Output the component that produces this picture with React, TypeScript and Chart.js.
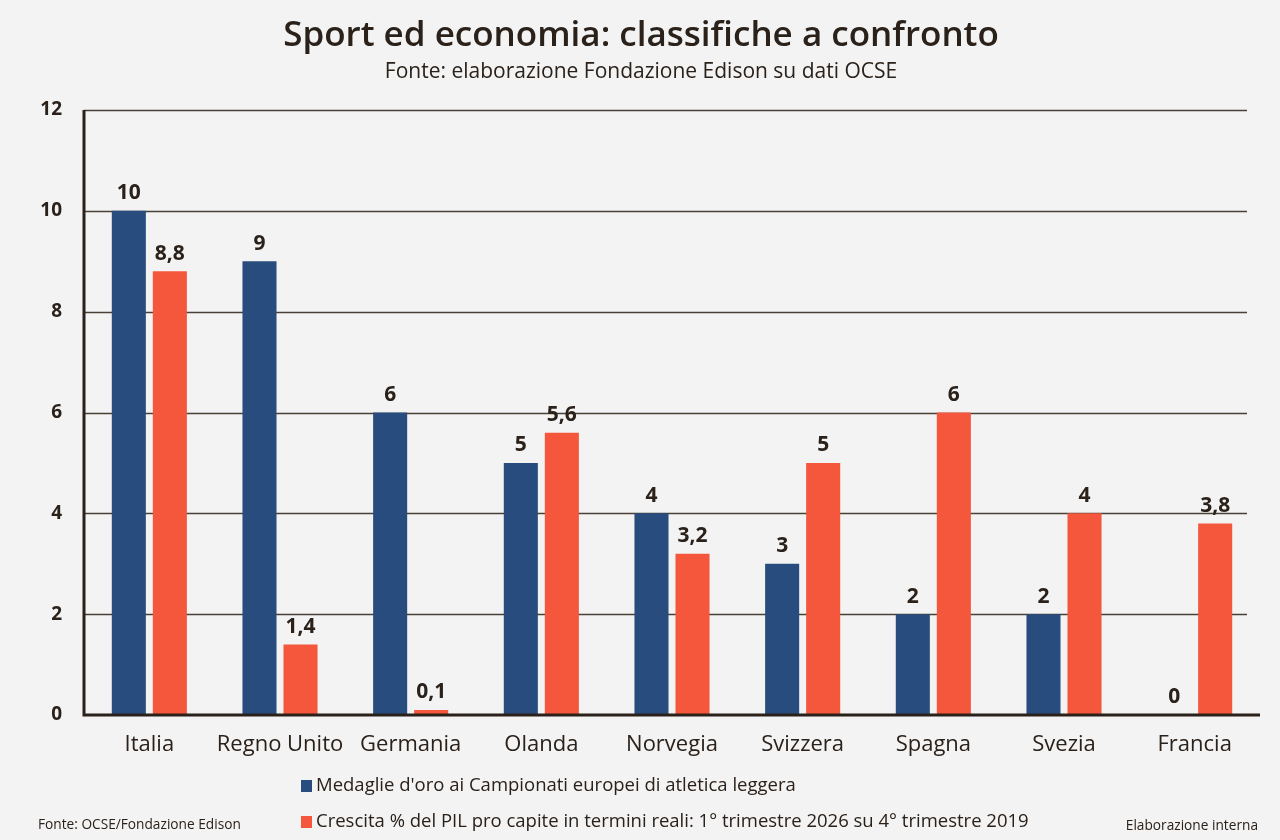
import React, { useEffect, useRef } from "react";
import { Chart, registerables } from "chart.js";

Chart.register(...registerables);

const categories = ["Italia", "Regno Unito", "Germania", "Olanda", "Norvegia", "Svizzera", "Spagna", "Svezia", "Francia"];
const medals = [10, 9, 6, 5, 4, 3, 2, 2, 0];
const gdpGrowth = [8.8, 1.4, 0.1, 5.6, 3.2, 5, 6, 4, 3.8];
const yTicks = [0, 2, 4, 6, 8, 10, 12];
const seriesLabels = [
  "Medaglie d'oro ai Campionati europei di atletica leggera",
  "Crescita % del PIL pro capite in termini reali: 1° trimestre 2026 su 4° trimestre 2019",
];
const titleText = "Sport ed economia: classifiche a confronto";
const subtitleText = "Fonte: elaborazione Fondazione Edison su dati OCSE";
const footerLeft = "Fonte: OCSE/Fondazione Edison";
const footerRight = "Elaborazione interna";

const FONT = "'Open Sans', 'DejaVu Sans', sans-serif";
const TEXT = "#2a211a";
const BLUE = "#284c7e";
const ORANGE = "#f4573b";
const BG = "#f3f3f3";

const fmt = (v: number) => String(v).replace(".", ",");

const decorPlugin = {
  id: "decor",
  beforeDatasetsDraw(chart: any) {
    const { ctx, chartArea } = chart;
    const y = chart.scales.y;
    ctx.save();
    ctx.strokeStyle = "#4a4037";
    ctx.lineWidth = 1.5;
    yTicks.forEach((t) => {
      if (t === 0) return;
      const py = Math.round(y.getPixelForValue(t)) + 0.5;
      ctx.beginPath();
      ctx.moveTo(chartArea.left, py);
      ctx.lineTo(chartArea.right - 13, py);
      ctx.stroke();
    });
    ctx.restore();
  },
  afterDatasetsDraw(chart: any) {
    const { ctx, chartArea } = chart;
    const y = chart.scales.y;
    ctx.save();
    // axes
    ctx.strokeStyle = TEXT;
    ctx.lineWidth = 3;
    ctx.beginPath();
    ctx.moveTo(chartArea.left, y.getPixelForValue(12));
    ctx.lineTo(chartArea.left, chartArea.bottom);
    ctx.lineTo(chartArea.right, chartArea.bottom);
    ctx.stroke();

    // data labels
    ctx.fillStyle = TEXT;
    ctx.font = `700 21px ${FONT}`;
    ctx.textAlign = "center";
    ctx.textBaseline = "bottom";
    chart.data.datasets.forEach((ds: any, di: number) => {
      const meta = chart.getDatasetMeta(di);
      meta.data.forEach((bar: any, i: number) => {
        ctx.fillText(fmt(ds.data[i]), bar.x, bar.y - 7);
      });
    });

    // title & subtitle
    const cx = chart.width / 2;
    ctx.textBaseline = "middle";
    ctx.font = `600 35px ${FONT}`;
    ctx.fillText(titleText, cx + 1, 36);
    ctx.font = `400 21px ${FONT}`;
    ctx.fillText(subtitleText, cx + 1, 72);

    // legend
    ctx.textAlign = "left";
    ctx.font = `400 18.5px ${FONT}`;
    chart.data.datasets.forEach((ds: any, di: number) => {
      const ly = 786 + di * 36;
      ctx.fillStyle = ds.backgroundColor;
      ctx.fillRect(301, ly - 6, 11, 12);
      ctx.fillStyle = TEXT;
      ctx.fillText(ds.label, 316, ly);
    });

    // footers
    ctx.font = `400 13.7px ${FONT}`;
    ctx.fillText(footerLeft, 38, 825);
    ctx.textAlign = "right";
    ctx.fillText(footerRight, 1258, 826);
    ctx.restore();
  },
};

export default function App() {
  const ref = useRef<HTMLCanvasElement | null>(null);
  useEffect(() => {
    document.body.style.margin = "0";
    document.body.style.background = BG;
    if (!ref.current) return;
    const chart = new Chart(ref.current, {
      type: "bar",
      data: {
        labels: categories,
        datasets: [
          { label: seriesLabels[0], data: medals, backgroundColor: BLUE, borderWidth: 0 },
          { label: seriesLabels[1], data: gdpGrowth, backgroundColor: ORANGE, borderWidth: 0 },
        ],
      },
      options: {
        animation: false,
        responsive: true,
        maintainAspectRatio: false,
        datasets: { bar: { categoryPercentage: 0.628, barPercentage: 0.83 } },
        layout: { padding: { top: 110, right: 20, bottom: 0, left: 0 } },
        plugins: {
          legend: { display: false },
          title: { display: false },
          tooltip: { enabled: false },
        },
        scales: {
          x: {
            grid: { display: false, drawTicks: false },
            border: { display: false },
            ticks: { color: TEXT, font: { family: FONT, size: 22, weight: "400" }, padding: 17, maxRotation: 0, autoSkip: false },
            afterFit: (s: any) => { s.height = 125; },
          },
          y: {
            min: 0,
            max: 12,
            afterBuildTicks: (s: any) => { s.ticks = yTicks.map((v) => ({ value: v })); },
            grid: { display: false, drawTicks: false },
            border: { display: false },
            ticks: { color: TEXT, font: { family: FONT, size: 19, weight: "700" }, padding: 22 },
            afterFit: (s: any) => { s.width = 84; },
          },
        },
      },
      plugins: [decorPlugin],
    });
    return () => chart.destroy();
  }, []);
  return (
    <div style={{ width: 1280, height: 840, background: BG, position: "relative" }}>
      <canvas ref={ref} />
    </div>
  );
}
